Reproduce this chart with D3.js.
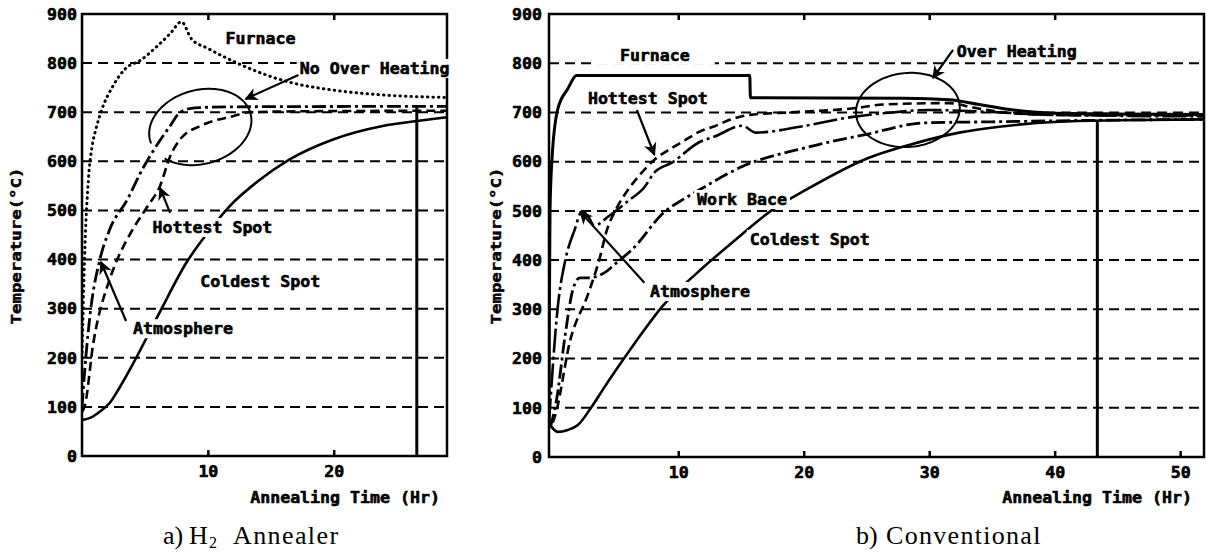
<!DOCTYPE html>
<html>
<head>
<meta charset="utf-8">
<script src="https://cdn.jsdelivr.net/npm/d3@7"></script>
<style>
body { margin: 0; background: #fff; }
.lbl { font-family: "DejaVu Sans Mono", monospace; font-weight: bold; font-size: 16.6px; fill: #000; stroke: #000; stroke-width: 0.6px; }
.ytitle { font-family: "DejaVu Sans Mono", monospace; font-weight: bold; font-size: 14px; stroke: #000; stroke-width: 0.5px; }
.cap { font-family: "Liberation Serif", "DejaVu Serif", serif; font-size: 26px; }
</style>
</head>
<body>
<svg id="chart" width="1207" height="553"></svg>
<script>
// a) H2 annealer, [time (hr), temperature (C)]
var h2Furnace = [[0,200],[0.2,400],[0.5,560],[0.8,630],[1.1,665],[1.5,700],[2.5,755],[3.5,790],[4.6,805],[6,835],[7,860],[7.9,884],[8.7,849],[10,830],[12,804],[14,782],[16.5,761],[20,745],[24,735],[29,730]];
var h2Atmos = [[0,100],[0.3,200],[0.7,300],[1.4,398],[2.2,461],[3.6,522],[4.8,584],[5.9,631],[7,672],[7.8,700],[9,709],[12,711],[29,712]];
var h2Hottest = [[0,90],[0.2,100],[0.9,230],[2.2,360],[2.8,400],[4,460],[5.2,508],[6.2,550],[7,610],[7.8,645],[9.4,672],[12,692],[13.3,700],[18,702],[29,703]];
var h2Coldest = [[0,73],[0.7,78],[1.4,90],[2.2,108],[3,140],[4.1,190],[6.2,294],[8.3,394],[10,455],[11.7,508],[14,560],[16.5,604],[20,645],[23.9,672],[26.6,682],[29,690]];
var h2End = [26.6, 712];

// b) conventional
var convFurnace = [[-0.3,60],[-0.27,300],[-0.22,500],[-0.05,610],[0.4,707],[1.2,748],[1.9,775],[15.7,775],[15.75,730],[28,729],[31.6,726],[34,716],[36.4,706],[39.5,699],[45,697],[51.9,696]];
var convHottest = [[0,70],[0.2,85],[1.4,238],[2.8,330],[3.7,400],[4.3,460],[5.1,506],[6,543],[7,575],[8.1,604],[9.5,628],[10.5,643],[11.7,661],[12.9,672],[14.1,685],[15.7,695],[18.9,700],[24.2,709],[26.3,716],[31.6,719],[33.5,710],[35.9,700],[40,695],[51.9,694]];
var convAtmos = [[-0.3,70],[0.4,305],[1,400],[1.75,462],[2.3,498],[2.8,490],[3.3,470],[4.5,490],[6,520],[7.3,548],[8.1,578],[9.5,598],[11.7,640],[12.9,651],[15.1,673],[16.2,659],[19.7,671],[23.9,691],[27,700],[30,705],[34,702],[40,695],[51.9,692]];
var convWork = [[-0.2,60],[0.3,116],[1,250],[1.6,340],[2.15,364],[2.8,364],[4.1,374],[5.1,395],[6.3,421],[8.9,498],[10.5,525],[11.7,543],[15.1,590],[20.4,630],[24.9,655],[29.7,679],[35,681],[43,684],[51.9,686]];
var convColdest = [[-0.3,69],[0,58],[0.4,51],[1.2,55],[2,65],[3.1,102],[4.2,145],[5.7,201],[7.2,255],[8.7,305],[11.5,374],[14.5,440],[17.5,502],[20.2,543],[25.2,608],[28.4,634],[32.4,659],[35.6,671],[40.3,681],[45,684],[51.9,686]];
var convEnd = [43.4, 683];

var tempTicks = [0,100,200,300,400,500,600,700,800,900];
var gridTemps = [100,200,300,400,500,600,700,800];

// annotations: [text, t, T, pad]
var h2Labels = [['Furnace',11.4,839],['No Over Heating',17.3,778],['Hottest Spot',5.6,454],['Coldest Spot',9.4,344],['Atmosphere',4.05,248]];
var h2Arrows = [[17.2,776,13.0,727],[7.0,495,6.2,546],[3.5,275,1.5,395]];
var convLabels = [['Furnace',5.35,805,25],['Hottest Spot',2.8,717],['Work Bace',11.5,512],['Coldest Spot',15.7,431],['Atmosphere',7.75,325],['Over Heating',32.2,813]];
var convArrows = [[6.7,705,8.1,614],[7.3,354,2.2,498],[31.9,827,30.3,770]];

var styles = {
  dotted:  {w: 3,   dash: '0.5,5', cap: 'round'},
  dashed:  {w: 2.6, dash: '9,5',   cap: 'butt'},
  dashdot: {w: 2.8, dash: '14,4,3,4', cap: 'butt'},
  longdd:  {w: 2.6, dash: '24,4,3,4', cap: 'butt'},
  solid:   {w: 2.6, dash: null,    cap: 'butt'},
  thick:   {w: 3,   dash: null,    cap: 'butt'}
};

var svg = d3.select('#chart');

var defs = svg.append('defs');
defs.append('marker')
  .attr('id', 'ah')
  .attr('viewBox', '0 0 10 10')
  .attr('refX', 9).attr('refY', 5)
  .attr('markerWidth', 13).attr('markerHeight', 13)
  .attr('markerUnits', 'userSpaceOnUse')
  .attr('orient', 'auto')
  .append('path').attr('d', 'M0,0 L10,5 L0,10 L3,5 z').attr('fill', '#000');

function ellipsePath(cx, cy, rx, ry, rot, a0, a1) {
  var r = rot * Math.PI / 180;
  var pts = d3.range(a0, a1 + 0.1, 3).map(function(a) {
    a = a * Math.PI / 180;
    var ex = rx * Math.cos(a), ey = ry * Math.sin(a);
    return [cx + ex * Math.cos(r) - ey * Math.sin(r), cy + ex * Math.sin(r) + ey * Math.cos(r)];
  });
  return d3.line()(pts);
}

function drawPanel(p, idx) {
  var g = svg.append('g');
  var x = d3.scaleLinear().domain(p.xDomain).range(p.xRange);
  var y = d3.scaleLinear().domain([0, 900]).range([p.y0, p.y1]);

  defs.append('clipPath').attr('id', 'clip' + idx)
    .append('rect')
    .attr('x', p.xRange[0]).attr('y', p.y1)
    .attr('width', p.xRange[1] - p.xRange[0]).attr('height', p.y0 - p.y1);

  // grid
  g.append('g').selectAll('line')
    .data(gridTemps).enter().append('line')
    .attr('x1', p.xRange[0]).attr('x2', p.xRange[1])
    .attr('y1', function(d) { return y(d); })
    .attr('y2', function(d) { return y(d); })
    .attr('stroke', '#000').attr('stroke-width', 2)
    .attr('stroke-dasharray', '10,6');

  // curves
  var line = d3.line()
    .x(function(d) { return x(d[0]); })
    .y(function(d) { return y(d[1]); })
    .curve(d3.curveMonotoneX);
  var cg = g.append('g').attr('clip-path', 'url(#clip' + idx + ')');
  p.series.forEach(function(s) {
    var st = styles[s.style];
    cg.append('path')
      .attr('d', line(s.data))
      .attr('fill', 'none')
      .attr('stroke', '#000')
      .attr('stroke-width', st.w)
      .attr('stroke-linecap', st.cap)
      .attr('stroke-linejoin', 'round')
      .attr('stroke-dasharray', st.dash);
  });

  // end-of-cycle line
  cg.append('line')
    .attr('x1', x(p.end[0])).attr('x2', x(p.end[0]))
    .attr('y1', y(0)).attr('y2', y(p.end[1]))
    .attr('stroke', '#000').attr('stroke-width', 3);

  // frame
  g.append('rect')
    .attr('x', p.xRange[0]).attr('y', p.y1)
    .attr('width', p.xRange[1] - p.xRange[0]).attr('height', p.y0 - p.y1)
    .attr('fill', 'none').attr('stroke', '#000').attr('stroke-width', 2.5);

  // axes
  var xb = g.append('g').attr('transform', 'translate(0,' + p.y0 + ')')
    .call(d3.axisBottom(x).tickValues(p.xTicks).tickSizeInner(-6).tickSizeOuter(0).tickPadding(9).tickFormat(d3.format('d')));
  var xt = g.append('g').attr('transform', 'translate(0,' + p.y1 + ')')
    .call(d3.axisTop(x).tickValues(p.xTicks.filter(function(d) { return d <= p.topMax; })).tickSizeInner(-6).tickSizeOuter(0).tickFormat(''));
  var ya = g.append('g').attr('transform', 'translate(' + p.xRange[0] + ',0)')
    .call(d3.axisLeft(y).tickValues(tempTicks).tickSize(0).tickPadding(p.yPad));
  [xb, xt, ya].forEach(function(a) {
    a.select('.domain').remove();
    a.selectAll('.tick line').attr('stroke-width', 2.5);
    a.selectAll('text').attr('class', 'lbl');
  });

  g.append('text')
    .attr('class', 'ytitle')
    .attr('transform', 'translate(' + p.yTitleX + ',' + 246 + ') rotate(-90)')
    .attr('text-anchor', 'middle')
    .attr('dy', '0.35em')
    .attr('textLength', 157)
    .attr('lengthAdjust', 'spacingAndGlyphs')
    .text('Temperature(°C)');

  g.append('text')
    .attr('class', 'lbl')
    .attr('x', p.xTitleRight).attr('y', 503)
    .attr('text-anchor', 'end')
    .text('Annealing Time (Hr)');

  // ellipse
  var e = p.ellipse;
  g.append('path')
    .attr('d', ellipsePath(x(e[0]), y(e[1]), e[2], e[3], e[4], e[5], e[6]))
    .attr('fill', 'none').attr('stroke', '#000').attr('stroke-width', 2);

  // labels
  p.labels.forEach(function(d) {
    var t = g.append('text').attr('class', 'lbl')
      .attr('x', x(d[1])).attr('y', y(d[2])).text(d[0]);
    var b = t.node().getBBox();
    var pad = d[3] || 3;
    g.insert('rect', function() { return t.node(); })
      .attr('x', b.x - pad).attr('y', b.y)
      .attr('width', b.width + 2 * pad).attr('height', b.height)
      .attr('fill', '#fff');
  });

  // arrows
  p.arrows.forEach(function(a) {
    g.append('line')
      .attr('x1', x(a[0])).attr('y1', y(a[1]))
      .attr('x2', x(a[2])).attr('y2', y(a[3]))
      .attr('stroke', '#000').attr('stroke-width', 2.2)
      .attr('marker-end', 'url(#ah)');
  });
}

drawPanel({
  xDomain: [0, 29], xRange: [82, 447], y0: 456, y1: 14,
  xTicks: [10, 20], topMax: 20, yPad: 5, yTitleX: 16, xTitleRight: 440,
  series: [
    {data: h2Furnace, style: 'dotted'},
    {data: h2Atmos, style: 'dashdot'},
    {data: h2Hottest, style: 'dashed'},
    {data: h2Coldest, style: 'solid'}
  ],
  end: h2End,
  ellipse: [9.4, 670, 52, 37, -15, 175, 507],
  labels: h2Labels,
  arrows: h2Arrows
}, 0);

drawPanel({
  xDomain: [-0.3, 51.9], xRange: [549, 1204], y0: 457, y1: 14,
  xTicks: [10, 20, 30, 40, 50], topMax: 40, yPad: 7, yTitleX: 496, xTitleRight: 1192,
  series: [
    {data: convFurnace, style: 'thick'},
    {data: convHottest, style: 'dashed'},
    {data: convAtmos, style: 'longdd'},
    {data: convWork, style: 'dashdot'},
    {data: convColdest, style: 'solid'}
  ],
  end: convEnd,
  ellipse: [28.3, 705, 52, 37, -5, 0, 360],
  labels: convLabels,
  arrows: convArrows
}, 1);

// captions
var capA = svg.append('text').attr('class', 'cap').attr('y', 544);
capA.append('tspan').attr('x', 163).text('a)');
capA.append('tspan').attr('x', 189).text('H');
capA.append('tspan').attr('x', 209).attr('dy', 4).attr('font-size', 16).text('2');
capA.append('tspan').attr('x', 233).attr('dy', -4).attr('letter-spacing', 1.4).text('Annealer');

var capB = svg.append('text').attr('class', 'cap').attr('y', 544);
capB.append('tspan').attr('x', 856).text('b)');
capB.append('tspan').attr('x', 886).attr('letter-spacing', 1.3).text('Conventional');
</script>
</body>
</html>
